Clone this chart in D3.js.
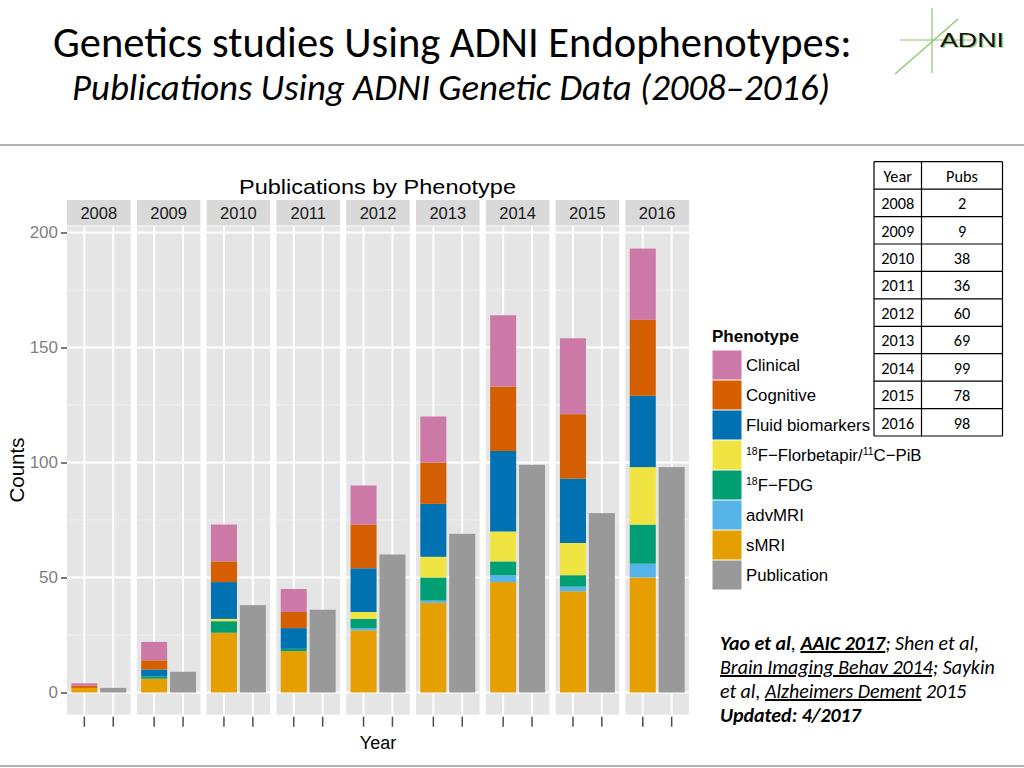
<!DOCTYPE html>
<html><head><meta charset="utf-8">
<script src="https://cdn.jsdelivr.net/npm/d3@7"></script>
<style>body{margin:0;background:#fff}svg{display:block}</style>
</head><body>
<svg id="c" width="1024" height="768"></svg>
<script>
// ---------- data ----------
const years = [2008, 2009, 2010, 2011, 2012, 2013, 2014, 2015, 2016];
const sMRI        = [2, 6, 26, 18, 27, 39, 48, 44, 50];
const advMRI      = [0, 0, 0, 0, 1, 1, 3, 2, 6];
const FDG         = [0, 1, 5, 1, 4, 10, 6, 5, 17];
const florbetapir = [0, 0, 1, 0, 3, 9, 13, 14, 25];
const fluid       = [0, 3, 16, 9, 19, 23, 35, 28, 31];
const cognitive   = [1, 4, 9, 7, 19, 18, 28, 28, 33];
const clinical    = [1, 8, 16, 10, 17, 20, 31, 33, 31];
const publication = [2, 9, 38, 36, 60, 69, 99, 78, 98];
const yTicks = [0, 50, 100, 150, 200];
const yMinor = [25, 75, 125, 175];
const stackKeys = ["sMRI", "advMRI", "FDG", "florbetapir", "fluid", "cognitive", "clinical"];
const legendKeys = ["clinical", "cognitive", "fluid", "florbetapir", "FDG", "advMRI", "sMRI", "publication"];
const legendLabels = {clinical: "Clinical", cognitive: "Cognitive", fluid: "Fluid biomarkers",
  florbetapir: [["18","sup"],["F\u2212Florbetapir/",""],["11","sup"],["C\u2212PiB",""]],
  FDG: [["18","sup"],["F\u2212FDG",""]], advMRI: "advMRI", sMRI: "sMRI", publication: "Publication"};
const colors = {clinical: "#CC79A7", cognitive: "#D55E00", fluid: "#0072B2", florbetapir: "#F0E442",
  FDG: "#009E73", advMRI: "#56B4E9", sMRI: "#E69F00", publication: "#999999"};

const rows = years.map((y, i) => ({year: y, sMRI: sMRI[i], advMRI: advMRI[i], FDG: FDG[i],
  florbetapir: florbetapir[i], fluid: fluid[i], cognitive: cognitive[i], clinical: clinical[i],
  publication: publication[i]}));

const svg = d3.select("#c");
const CAL = "Carlito, Lato, 'Open Sans', sans-serif";
const ARIAL = "'Liberation Sans', Arial, sans-serif";

function fit(sel, target) {
  const fs = parseFloat(sel.attr("font-size"));
  const w = sel.node().getComputedTextLength();
  sel.attr("font-size", fs * target / w);
  return sel;
}
function stretch(sel, target) {
  sel.attr("textLength", target).attr("lengthAdjust", "spacingAndGlyphs");
  return sel;
}

// ---------- slide header ----------
fit(svg.append("text").attr("x", 53).attr("y", 57).attr("font-family", CAL).attr("font-size", 36)
  .attr("fill", "#000").text("Genetics studies Using ADNI Endophenotypes:"), 799);
fit(svg.append("text").attr("x", 72).attr("y", 100).attr("font-family", CAL).attr("font-size", 30)
  .attr("font-style", "italic").attr("fill", "#000").text("Publications Using ADNI Genetic Data (2008\u20132016)"), 758);
svg.append("line").attr("x1", 0).attr("x2", 1024).attr("y1", 145).attr("y2", 145).attr("stroke", "#9a9a9a").attr("stroke-width", 1.5);
svg.append("line").attr("x1", 0).attr("x2", 1024).attr("y1", 766).attr("y2", 766).attr("stroke", "#9a9a9a").attr("stroke-width", 1.5);

// logo
const logo = svg.append("g");
logo.append("line").attr("x1", 932).attr("x2", 932).attr("y1", 8).attr("y2", 73).attr("stroke", "#8cc46a").attr("stroke-width", 1.2);
logo.append("line").attr("x1", 900).attr("x2", 972).attr("y1", 40).attr("y2", 40).attr("stroke", "#8cc46a").attr("stroke-width", 1.2);
logo.append("line").attr("x1", 895).attr("x2", 958).attr("y1", 74).attr("y2", 19).attr("stroke", "#8cc46a").attr("stroke-width", 1.2);
stretch(logo.append("text").attr("x", 941.5).attr("y", 48).attr("font-family", ARIAL).attr("font-size", 21)
  .attr("fill", "#9fd37c").text("ADNI"), 64);
stretch(logo.append("text").attr("x", 940).attr("y", 46.5).attr("font-family", ARIAL).attr("font-size", 21)
  .attr("fill", "#111").text("ADNI"), 64);

// ---------- chart ----------
const panelTop = 226.4, panelBottom = 714.7;
const yMax = d3.max(rows, d => stackKeys.reduce((s, k) => s + d[k], 0));
const ex = 0.05 * yMax;
const y = d3.scaleLinear().domain([-ex, yMax + ex]).range([panelBottom, panelTop]);
const fx = d3.scaleBand().domain(years).range([67, 689]).paddingInner(0.089);
const bw = fx.bandwidth();
const xin = d3.scaleLinear().domain([0.4, 2.6]).range([0, bw]);
const barW = xin(1.45) - xin(1);

stretch(svg.append("text").attr("x", 239).attr("y", 194).attr("font-family", ARIAL)
  .attr("font-size", 21).attr("fill", "#000").text("Publications by Phenotype"), 277);

const series = d3.stack().keys(stackKeys)(rows);

years.forEach((yr, i) => {
  const g = svg.append("g").attr("transform", `translate(${fx(yr)},0)`);
  // strip
  g.append("rect").attr("x", 0).attr("y", 200).attr("width", bw).attr("height", 25.5).attr("fill", "#d9d9d9");
  g.append("text").attr("x", bw / 2).attr("y", 219).attr("text-anchor", "middle").attr("font-family", ARIAL)
    .attr("font-size", 16.5).attr("fill", "#1a1a1a").text(yr);
  // panel
  g.append("rect").attr("x", 0).attr("y", panelTop).attr("width", bw).attr("height", panelBottom - panelTop).attr("fill", "#e5e5e5");
  yMinor.forEach(t => g.append("line").attr("x1", 0).attr("x2", bw).attr("y1", y(t)).attr("y2", y(t)).attr("stroke", "#f2f2f2").attr("stroke-width", 1));
  yTicks.forEach(t => g.append("line").attr("x1", 0).attr("x2", bw).attr("y1", y(t)).attr("y2", y(t)).attr("stroke", "#fff").attr("stroke-width", 2));
  [1, 2].forEach(p => g.append("line").attr("x1", xin(p)).attr("x2", xin(p)).attr("y1", panelTop).attr("y2", panelBottom).attr("stroke", "#fff").attr("stroke-width", 2));
  // stacked bars
  series.forEach(s => {
    const d = s[i];
    if (d[1] - d[0] <= 0) return;
    g.append("rect").attr("x", xin(1) - barW).attr("width", barW * 2)
      .attr("y", y(d[1])).attr("height", y(d[0]) - y(d[1])).attr("fill", colors[s.key]);
  });
  g.append("rect").attr("x", xin(2) - barW).attr("width", barW * 2)
    .attr("y", y(rows[i].publication)).attr("height", y(0) - y(rows[i].publication)).attr("fill", colors.publication);
  // x ticks
  [1, 2].forEach(p => g.append("line").attr("x1", xin(p)).attr("x2", xin(p)).attr("y1", panelBottom + 2).attr("y2", panelBottom + 12)
    .attr("stroke", "#4d4d4d").attr("stroke-width", 1.5));
});

// y axis
const ya = svg.append("g").attr("transform", `translate(${fx(years[0])},0)`)
  .call(d3.axisLeft(y).tickValues(yTicks).tickSize(6).tickPadding(3));
ya.select(".domain").remove();
ya.selectAll(".tick line").attr("stroke", "#4d4d4d").attr("stroke-width", 1.5);
ya.selectAll(".tick text").attr("font-family", ARIAL).attr("font-size", 17).attr("fill", "#7f7f7f");

svg.append("text").attr("transform", "translate(24,470) rotate(-90)").attr("text-anchor", "middle")
  .attr("font-family", ARIAL).attr("font-size", 20.5).attr("fill", "#000").text("Counts");
svg.append("text").attr("x", 378).attr("y", 749).attr("text-anchor", "middle")
  .attr("font-family", ARIAL).attr("font-size", 18).attr("fill", "#000").text("Year");

// legend
const lg = svg.append("g");
lg.append("text").attr("x", 712).attr("y", 342).attr("font-family", ARIAL).attr("font-size", 17)
  .attr("font-weight", "bold").text("Phenotype");
legendKeys.forEach((k, j) => {
  const top = 350 + 30 * j;
  lg.append("rect").attr("x", 712.5).attr("y", top + 0.5).attr("width", 29).attr("height", 29).attr("fill", colors[k]);
  const t = lg.append("text").attr("x", 746).attr("y", top + 21).attr("font-family", ARIAL).attr("font-size", 16.8).attr("fill", "#000");
  const lab = legendLabels[k];
  if (typeof lab === "string") t.text(lab);
  else lab.forEach(([s, st]) => {
    const ts = t.append("tspan").text(s);
    if (st === "sup") ts.attr("font-size", 10.5).attr("dy", -6);
    else ts.attr("dy", 6);
  });
});

// table
const tx0 = 874, tx1 = 921.5, tx2 = 1002.5, ty0 = 161.7, rh = 27.43;
const tableRows = [["Year", "Pubs"]].concat(years.map((yv, i) => [String(yv), String(publication[i])]));
const tb = svg.append("g");
const probe = fit(tb.append("text").attr("font-family", CAL).attr("font-size", 14).text("2008"), 33);
const tfs = parseFloat(probe.attr("font-size"));
probe.remove();
tableRows.forEach((r, j) => {
  tb.append("text").attr("x", (tx0 + tx1) / 2).attr("y", ty0 + rh * j + 20).attr("text-anchor", "middle")
    .attr("font-family", CAL).attr("font-size", tfs).text(r[0]);
  tb.append("text").attr("x", (tx1 + tx2) / 2).attr("y", ty0 + rh * j + 20).attr("text-anchor", "middle")
    .attr("font-family", CAL).attr("font-size", tfs).text(r[1]);
});
for (let j = 0; j <= tableRows.length; j++)
  tb.append("line").attr("x1", tx0).attr("x2", tx2).attr("y1", ty0 + rh * j).attr("y2", ty0 + rh * j).attr("stroke", "#000").attr("stroke-width", 1.2);
[tx0, tx1, tx2].forEach(x => tb.append("line").attr("x1", x).attr("x2", x).attr("y1", ty0).attr("y2", ty0 + rh * tableRows.length)
  .attr("stroke", "#000").attr("stroke-width", 1.2));

// citation
const cites = [
  [["Yao et al", "b"], [", ", ""], ["AAIC 2017", "bu"], ["; Shen et al,", ""]],
  [["Brain Imaging Behav 2014;", "u"], [" Saykin", ""]],
  [["et al, ", ""], ["Alzheimers Dement", "u"], [" 2015", ""]],
  [["Updated: 4/2017", "b"]]
];
const cg = svg.append("g");
const lines = cites.map((parts, j) => {
  const t = cg.append("text").attr("x", 720).attr("y", 650 + 24 * j).attr("font-family", CAL)
    .attr("font-size", 17).attr("font-style", "italic").attr("fill", "#000");
  parts.forEach(([s, st]) => {
    const ts = t.append("tspan").text(s).attr("style", "white-space:pre");
    if (st.includes("b")) ts.attr("font-weight", "bold");
    if (st.includes("u")) ts.attr("text-decoration", "underline");
  });
  return t;
});
const w2 = lines[1].node().getComputedTextLength();
const fs = 17 * 275 / w2;
lines.forEach(t => t.attr("font-size", fs));
</script>
</body></html>
